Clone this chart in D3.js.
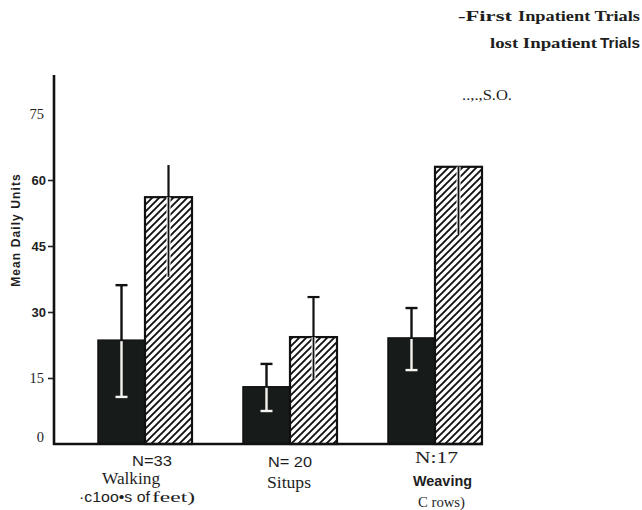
<!DOCTYPE html>
<html><head><meta charset="utf-8">
<script src="https://cdn.jsdelivr.net/npm/d3@7"></script>
<style>
html,body{margin:0;padding:0;background:#fff;}
svg{display:block;}
</style></head>
<body>
<svg id="c" width="642" height="510"></svg>
<script>
// ---- data ----
const categories = ["Walking", "Situps", "Weaving"];
const nLabels = ["N=33", "N= 20", "N:17"];
const subLabels = ["·c1oo•s of", "", "C rows)"];
const series = ["First Inpatient Trials", "Most Inpatient Trials"];
const firstMean = [23.6, 13.0, 24.1];
const firstHigh = [36.1, 18.2, 30.9];
const firstLow = [10.7, 7.5, 16.8];
const mostMean = [56.1, 24.3, 63.0];
const mostHigh = [63.4, 33.4, 63.0];
const mostLow = [38.0, 14.8, 47.5];
const yTicks = [0, 15, 30, 45, 60, 75];

const sans = "'Liberation Sans', Arial, sans-serif";
const serif = "'Liberation Serif', 'Times New Roman', serif";
const ink = "#1e1e1e";

const svg = d3.select("#c");
svg.append("rect").attr("width", 642).attr("height", 510).attr("fill", "#fff");

const defs = svg.append("defs");
const pat = defs.append("pattern").attr("id", "hatch")
  .attr("patternUnits", "userSpaceOnUse").attr("width", 7).attr("height", 7);
pat.append("rect").attr("width", 7).attr("height", 7).attr("fill", "#fff");
pat.append("path").attr("d", "M-1,1 l2,-2 M0,7 l7,-7 M6,8 l2,-2")
  .attr("stroke", "#111").attr("stroke-width", 1.9);

const y = d3.scaleLinear().domain([0, 75]).range([444, 114]);
const x = d3.scalePoint().domain(categories).range([145, 435]);
const xs = d3.scaleBand().domain(series).range([-47, 47]);

// helper for fitted text
function label(parent, str, x0, x1, yb, font, size, weight) {
  return parent.append("text").attr("x", x0).attr("y", yb)
    .attr("textLength", x1 - x0).attr("lengthAdjust", "spacingAndGlyphs")
    .attr("fill", ink)
    .style("font-family", font).style("font-size", size + "px")
    .style("font-weight", weight || "normal").text(str);
}

// y axis
const isSans = d => d >= 30 && d <= 60;
const yAxis = d3.axisLeft(y).tickValues(yTicks).tickSize(6).tickFormat(d3.format("d"));
const ga = svg.append("g").attr("transform", "translate(54,0)").call(yAxis);
ga.select(".domain").remove();
ga.selectAll(".tick line").attr("stroke", "#222").attr("stroke-width", 1.6)
  .attr("display", d => (d === 0 || d === 75) ? "none" : null);
ga.selectAll(".tick text")
  .attr("x", d => isSans(d) ? -8 : -10)
  .attr("fill", ink)
  .style("font-family", d => isSans(d) ? sans : serif)
  .style("font-weight", d => isSans(d) ? "bold" : "normal")
  .style("font-size", d => isSans(d) ? "13px" : "14.5px")
  .attr("dy", d => d === 0 ? "-0.15em" : "0.32em");

svg.append("line").attr("x1", 54).attr("x2", 54).attr("y1", 75).attr("y2", 445)
  .attr("stroke", "#111").attr("stroke-width", 2.6);

svg.append("text")
  .attr("transform", "translate(20,230) rotate(-90)")
  .attr("text-anchor", "middle")
  .style("font-family", sans)
  .style("font-weight", "bold").style("font-size", "12px")
  .style("letter-spacing", "1.1px")
  .attr("fill", ink)
  .text("Mean Daily Units");

// bars
const rows = categories.map((c, i) => ({
  c, i,
  first: firstMean[i], fHi: firstHigh[i], fLo: firstLow[i],
  most: mostMean[i], mHi: mostHigh[i], mLo: mostLow[i]
}));

const g = svg.append("g");
g.selectAll(".bf").data(rows).join("rect")
  .attr("x", d => x(d.c) + xs(series[0]))
  .attr("width", xs.bandwidth())
  .attr("y", d => y(d.first))
  .attr("height", d => y(0) - y(d.first))
  .attr("fill", "#171b19").attr("stroke", "#111").attr("stroke-width", 1.5);

g.selectAll(".bm").data(rows).join("rect")
  .attr("x", d => x(d.c) + xs(series[1]))
  .attr("width", xs.bandwidth())
  .attr("y", d => y(d.most))
  .attr("height", d => y(0) - y(d.most))
  .attr("fill", "url(#hatch)").attr("stroke", "#111").attr("stroke-width", 2.2);

// error bars - first (dark)
const cx1 = d => x(d.c) + xs(series[0]) + xs.bandwidth() / 2;
const cx2 = d => x(d.c) + xs(series[1]) + xs.bandwidth() / 2;
g.selectAll(".e1u").data(rows).join("line")
  .attr("x1", cx1).attr("x2", cx1).attr("y1", d => y(d.first)).attr("y2", d => y(d.fHi))
  .attr("stroke", "#111").attr("stroke-width", 2.4);
g.selectAll(".e1uc").data(rows).join("line")
  .attr("x1", d => cx1(d) - 6).attr("x2", d => cx1(d) + 6).attr("y1", d => y(d.fHi)).attr("y2", d => y(d.fHi))
  .attr("stroke", "#111").attr("stroke-width", 2.4);
g.selectAll(".e1l").data(rows).join("line")
  .attr("x1", cx1).attr("x2", cx1).attr("y1", d => y(d.first) + 1).attr("y2", d => y(d.fLo))
  .attr("stroke", "#f4f4f0").attr("stroke-width", 2.4);
g.selectAll(".e1lc").data(rows).join("line")
  .attr("x1", d => cx1(d) - 6).attr("x2", d => cx1(d) + 6).attr("y1", d => y(d.fLo)).attr("y2", d => y(d.fLo))
  .attr("stroke", "#f4f4f0").attr("stroke-width", 2.4);

// error bars - most (hatched)
g.selectAll(".e2l").data(rows).join("line")
  .attr("x1", cx2).attr("x2", cx2).attr("y1", d => y(d.most)).attr("y2", d => y(d.mLo))
  .attr("stroke", "#fff").attr("stroke-width", 4);
g.selectAll(".e2l2").data(rows).join("line")
  .attr("x1", cx2).attr("x2", cx2).attr("y1", d => y(d.most)).attr("y2", d => y(d.mLo))
  .attr("stroke", "#111").attr("stroke-width", 1.8);
g.selectAll(".e2u").data(rows.filter(d => d.mHi > d.most)).join("line")
  .attr("x1", cx2).attr("x2", cx2).attr("y1", d => y(d.most)).attr("y2", d => y(d.mHi))
  .attr("stroke", "#111").attr("stroke-width", 2.2);
g.selectAll(".e2uc").data(rows.filter(d => d.mHi - d.most > 8)).join("line")
  .attr("x1", d => cx2(d) - 6).attr("x2", d => cx2(d) + 6).attr("y1", d => y(d.mHi)).attr("y2", d => y(d.mHi))
  .attr("stroke", "#111").attr("stroke-width", 2.2);

// baseline
svg.append("line").attr("x1", 53).attr("x2", x(categories[2]) + xs(series[1]) + xs.bandwidth() + 1)
  .attr("y1", y(0)).attr("y2", y(0)).attr("stroke", "#111").attr("stroke-width", 2.4);

// x labels (fitted to the widths seen in the reference)
const xl = svg.append("g");
label(xl, nLabels[0], 132, 172, 466, sans, 15);
label(xl, categories[0], 102, 160, 484, serif, 16);
label(xl, subLabels[0], 79, 150, 502, sans, 15);
label(xl, "feet)", 152, 195, 502, serif, 15);
label(xl, nLabels[1], 268, 312, 467, sans, 15);
label(xl, categories[1], 267, 311, 488, serif, 16.5);
label(xl, nLabels[2], 415, 458, 463, serif, 16);
label(xl, categories[2], 413, 472, 486, sans, 14.5, "bold");
label(xl, subLabels[2], 418, 465, 507, serif, 15);

// legend
const lg = svg.append("g");
label(lg, "-First", 458, 512, 21, serif, 15, "bold");
label(lg, "Inpatient Trials", 518, 640, 21, serif, 15, "bold");
label(lg, "lost Inpatient", 490, 597, 48, serif, 14.5, "bold");
label(lg, "Trials", 600, 640, 48, sans, 14, "bold");
label(lg, "..,.,S.O.", 462, 512, 100, serif, 15);
</script>
</body></html>
